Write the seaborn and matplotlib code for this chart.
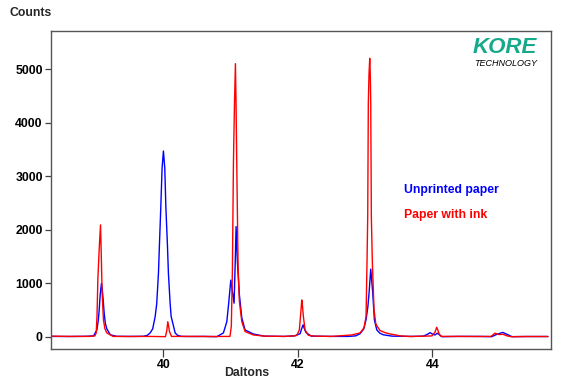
import matplotlib
matplotlib.use("Agg")
import matplotlib.pyplot as plt
import seaborn as sns
import pandas as pd

# ---- data ----
blue_x = [38.32, 38.6, 38.85, 38.96, 39.01, 39.03, 39.044, 39.06, 39.078, 39.09, 39.103, 39.118,
          39.135, 39.158, 39.21, 39.3,
          39.5, 39.70, 39.76, 39.802, 39.84, 39.877, 39.90, 39.926, 39.94, 39.961, 39.98, 40.0,
          40.02, 40.036, 40.06, 40.074, 40.10, 40.115, 40.16, 40.174, 40.21, 40.27,
          40.4, 40.6, 40.794, 40.892, 40.943, 40.97, 41.002, 41.02, 41.051, 41.066, 41.081, 41.100,
          41.130, 41.166, 41.215, 41.338, 41.5, 41.8, 41.95, 42.033, 42.055, 42.077, 42.10, 42.122,
          42.2, 42.5, 42.75, 42.86, 42.925, 42.98, 43.014, 43.04, 43.059, 43.084, 43.114, 43.138,
          43.174, 43.22, 43.271, 43.4, 43.7, 43.866, 43.93, 43.966, 44.0, 44.040, 44.074, 44.144,
          44.4, 44.7, 44.883, 44.962, 45.047, 45.126, 45.185, 45.4, 45.72]
blue_y = [10, 8, 12, 20, 130, 300, 500, 800, 1000, 880, 700, 450,
          260, 150, 40, 12,
          10, 12, 30, 75, 150, 380, 620, 1190, 1700, 2430, 3150, 3470,
          3150, 2430, 1700, 1190, 620, 380, 150, 75, 30, 10,
          8, 10, 5, 75, 285, 620, 1060, 900, 630, 1300, 2060, 1400,
          785, 355, 130, 55, 15, 10, 20, 60, 150, 225, 140, 80,
          15, 10, 10, 20, 60, 150, 320, 550, 820, 1265, 820, 320,
          130, 70, 40, 15, 10, 15, 50, 80, 55, 37, 70, 5,
          10, 10, 5, 50, 85, 40, 5, 8, 8]

red_x = [38.32, 38.6, 38.9, 38.98, 39.0, 39.012, 39.025, 39.045, 39.064, 39.076, 39.088, 39.108,
         39.13, 39.158, 39.25,
         39.5, 39.8, 40.03, 40.05, 40.065, 40.08, 40.09, 40.12, 40.4, 40.7, 40.99, 41.01, 41.026,
         41.041, 41.056, 41.071, 41.081, 41.091, 41.111, 41.130, 41.166, 41.215, 41.338, 41.5,
         41.8, 41.95, 41.984, 42.022, 42.04, 42.058, 42.07, 42.082, 42.107, 42.156, 42.25, 42.5,
         42.801, 42.925, 42.984, 43.014, 43.029, 43.039, 43.048, 43.058, 43.069, 43.077, 43.084,
         43.093, 43.108, 43.133, 43.158, 43.178, 43.222, 43.297, 43.371, 43.446, 43.520, 43.669,
         43.9, 43.995, 44.04, 44.065, 44.085, 44.10, 44.129, 44.4, 44.7, 44.873, 44.932, 44.992,
         45.051, 45.111, 45.170, 45.4, 45.72]
red_y = [15, 10, 10, 20, 75, 400, 1095, 1650, 2090, 1500, 820, 315,
         150, 75, 10,
         8, 10, 5, 120, 285, 180, 100, 10, 10, 8, 10, 200, 1250,
         3210, 4300, 5100, 4300, 3210, 1290, 660, 285, 100, 37, 15,
         10, 20, 30, 130, 400, 690, 560, 380, 130, 30, 15, 10,
         37, 75, 170, 380, 1435, 2245, 4365, 4900, 5200, 4900, 4365,
         2245, 1380, 505, 255, 200, 120, 80, 55, 40, 20, 8,
         15, 20, 90, 180, 120, 60, 10, 10, 8, 10, 70, 45,
         50, 20, 5, 8, 8]

series_names = ["Unprinted paper", "Paper with ink"]
series_colors = ["#0000ff", "#ff0000"]
x_ticks = [40, 42, 44]
y_ticks = [0, 1000, 2000, 3000, 4000, 5000]

df = pd.concat([
    pd.DataFrame({"Daltons": blue_x, "Counts": blue_y, "series": series_names[0]}),
    pd.DataFrame({"Daltons": red_x, "Counts": red_y, "series": series_names[1]}),
], ignore_index=True)

sns.set_style("white")
plt.rcParams["font.family"] = ["Liberation Sans", "DejaVu Sans"]

fig = plt.figure(figsize=(5.68, 3.87), dpi=100)
ax = fig.add_axes([50.5 / 568, 1 - 349 / 387, (551.3 - 50.5) / 568, (349 - 30.7) / 387])

sns.lineplot(data=df, x="Daltons", y="Counts", hue="series", palette=series_colors,
             hue_order=series_names, estimator=None, sort=False, linewidth=1.0,
             legend=False, ax=ax)

ax.set_xlim(38.32, 45.77)
ax.set_ylim(-225, 5715)
ax.set_xticks(x_ticks)
ax.set_yticks(y_ticks)
ax.set_xticklabels([str(v) for v in x_ticks], fontweight="bold", fontsize=8.8)
ax.set_yticklabels([str(v) for v in y_ticks], fontweight="bold", fontsize=8.8)
ax.tick_params(axis="x", direction="out", length=5.5, width=0.9, pad=2, colors="#404040",
               labelcolor="black")
ax.tick_params(axis="y", direction="out", length=4.5, width=0.9, pad=1, colors="#404040",
               labelcolor="black")
ax.xaxis.set_ticks_position("bottom")
ax.yaxis.set_ticks_position("left")
ax.set_xlabel("")
ax.set_ylabel("")
for s in ax.spines.values():
    s.set_visible(True)
    s.set_color("#555555")
    s.set_linewidth(1.0)

fig.text(10 / 568, 1 - 13 / 387, "Counts", fontweight="bold", fontsize=8.8,
         ha="left", va="center")
fig.text(247 / 568, 1 - 373 / 387, "Daltons", fontweight="bold", fontsize=8.8,
         ha="center", va="center")

fig.text(404 / 568, 1 - 190.5 / 387, series_names[0], color=series_colors[0],
         fontweight="bold", fontsize=8.8, ha="left", va="center")
fig.text(404 / 568, 1 - 215 / 387, series_names[1], color=series_colors[1],
         fontweight="bold", fontsize=8.8, ha="left", va="center")

fig.text(473 / 568, 1 - 47.5 / 387, "KORE", color="#17a98b", fontweight="bold",
         fontstyle="italic", fontsize=16, ha="left", va="center")
fig.text(474 / 568, 1 - 63 / 387, "TECHNOLOGY", color="black", fontstyle="italic",
         fontsize=6.5, ha="left", va="center")

fig.savefig("out.png", dpi=100)
